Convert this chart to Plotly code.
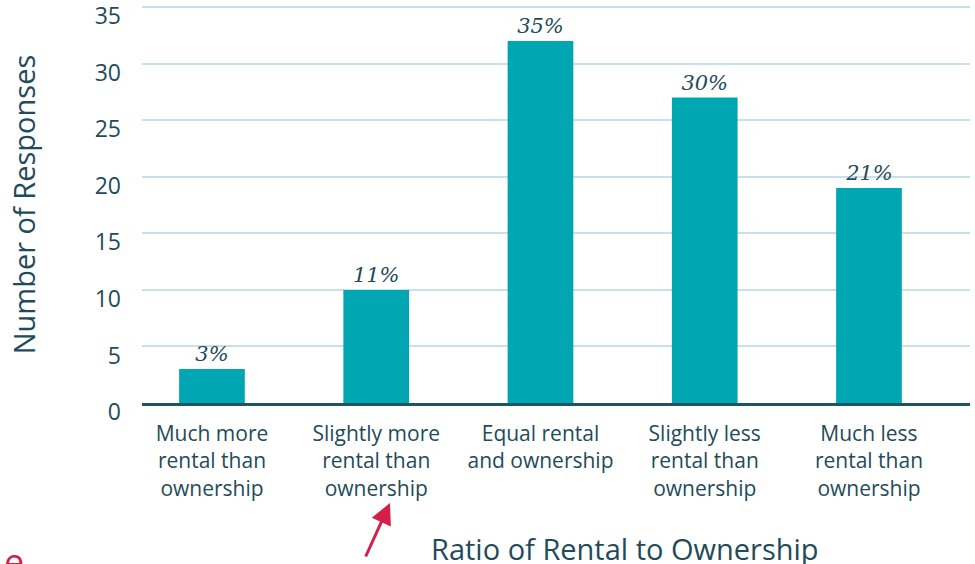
import plotly.graph_objects as go

categories = [
    "Much more<br>rental than<br>ownership",
    "Slightly more<br>rental than<br>ownership",
    "Equal rental<br>and ownership",
    "Slightly less<br>rental than<br>ownership",
    "Much less<br>rental than<br>ownership",
]
responses = [3, 10, 32, 27, 19]
pct_labels = ["3%", "11%", "35%", "30%", "21%"]
y_ticks = [0, 5, 10, 15, 20, 25, 30, 35]

TEXT = "#1f4b5b"
BAR = "#00a6b2"
RED = "#d41f4a"

fig = go.Figure()
fig.add_trace(go.Bar(
    x=list(range(len(categories))),
    y=responses,
    width=0.4,
    marker=dict(color=BAR, line=dict(width=0)),
    text=pct_labels,
    textposition="outside",
    textfont=dict(family="Georgia, 'DejaVu Serif', serif", size=21, color=TEXT, style="italic"),
    cliponaxis=False,
))

fig.update_layout(
    width=975, height=564,
    margin=dict(l=142, r=5, t=6, b=161, autoexpand=False),
    paper_bgcolor="white", plot_bgcolor="white",
    showlegend=False,
    font=dict(family="Open Sans, sans-serif", color=TEXT),
)
fig.update_xaxes(
    range=[-0.426, 4.615],
    tickmode="array",
    tickvals=list(range(len(categories))),
    ticktext=categories,
    tickfont=dict(size=21, color=TEXT),
    showgrid=False,
    showline=True, linecolor="#1e5566", linewidth=2.5,
    ticks="", ticklabelstandoff=10,
    zeroline=False, automargin=False,
)
fig.update_yaxes(
    range=[0, 35.1],
    tickmode="array",
    tickvals=y_ticks,
    tickfont=dict(size=23, color=TEXT),
    showgrid=True, gridcolor="#c6e2e8", gridwidth=1.5,
    zeroline=False, showline=False,
    ticks="", ticklabelstandoff=20, ticklabelshift=9,
    ticklabeloverflow="allow", automargin=False,
    title=dict(text="Number of Responses", font=dict(size=29, color=TEXT), standoff=50),
)

fig.add_annotation(
    text="Ratio of Rental to Ownership",
    xref="paper", yref="paper",
    x=(625 - 142) / 828, y=(403 - 548) / 397,
    xanchor="center", yanchor="middle",
    showarrow=False,
    font=dict(size=29, color=TEXT),
)
fig.add_annotation(
    xref="paper", yref="paper",
    x=(390 - 142) / 828, y=(403 - 503) / 397,
    ax=-25, ay=55, text="",
    showarrow=True, arrowhead=2, arrowsize=1.4, arrowwidth=3, arrowcolor=RED,
)
fig.add_annotation(
    text="e",
    xref="paper", yref="paper",
    x=(2 - 142) / 828, y=(403 - 561) / 397,
    xanchor="left", yanchor="middle",
    showarrow=False,
    font=dict(size=36, color=RED),
)

fig.write_html("out.html", config={"displayModeBar": False},
               post_script="document.body.style.margin='0';")
